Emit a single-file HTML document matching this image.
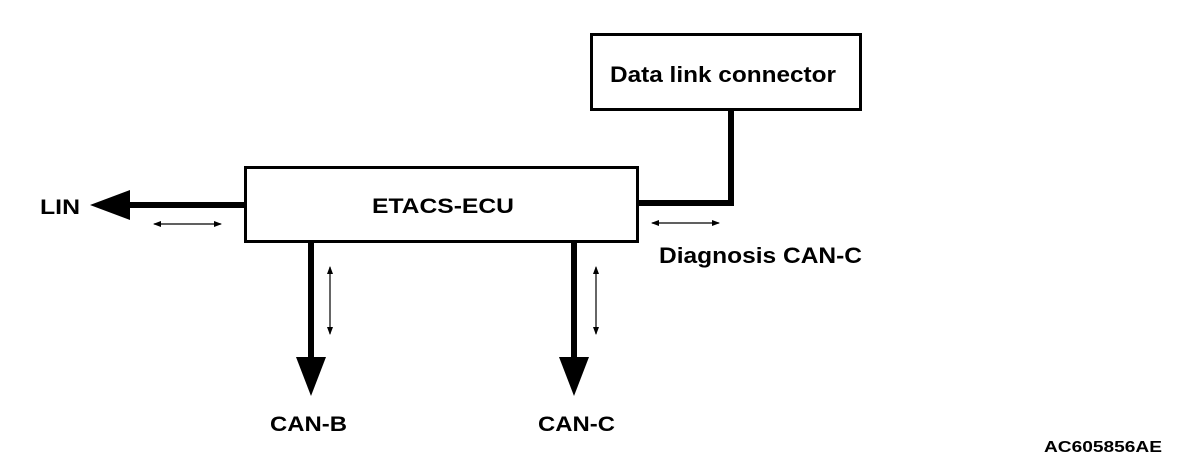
<!DOCTYPE html>
<html><head><meta charset="utf-8"><style>
html,body{margin:0;padding:0;background:#fff;}
svg{display:block;}
text{font-family:"Liberation Sans",sans-serif;font-weight:bold;fill:#000;}
</style></head><body>
<svg width="1200" height="472" viewBox="0 0 1200 472" xmlns="http://www.w3.org/2000/svg">
<defs>
<marker id="sa" markerWidth="8" markerHeight="6" refX="7" refY="3" orient="auto-start-reverse" markerUnits="userSpaceOnUse">
<path d="M0,0 L8,3 L0,6 z" fill="#000"/></marker>
</defs>
<rect x="591.5" y="34.5" width="269" height="75" fill="none" stroke="#000" stroke-width="3"/>
<text x="610" y="82" font-size="22" textLength="226" lengthAdjust="spacingAndGlyphs">Data link connector</text>
<rect x="245.5" y="167.5" width="392" height="74" fill="none" stroke="#000" stroke-width="3"/>
<text x="372" y="213" font-size="21" textLength="142" lengthAdjust="spacingAndGlyphs">ETACS-ECU</text>
<polyline points="638,203 731,203 731,110" fill="none" stroke="#000" stroke-width="6"/>
<line x1="245" y1="205" x2="128" y2="205" stroke="#000" stroke-width="6"/>
<polygon points="90,205 130,190 130,220" fill="#000"/>
<text x="40" y="214" font-size="21" textLength="40" lengthAdjust="spacingAndGlyphs">LIN</text>
<line x1="154" y1="224" x2="221" y2="224" stroke="#000" stroke-width="1.2" marker-start="url(#sa)" marker-end="url(#sa)"/>
<line x1="652" y1="223" x2="719" y2="223" stroke="#000" stroke-width="1.2" marker-start="url(#sa)" marker-end="url(#sa)"/>
<text x="659" y="263" font-size="22" textLength="203" lengthAdjust="spacingAndGlyphs">Diagnosis CAN-C</text>
<line x1="311" y1="242" x2="311" y2="360" stroke="#000" stroke-width="6"/>
<polygon points="296,357 326,357 311,396" fill="#000"/>
<line x1="330" y1="267" x2="330" y2="334" stroke="#000" stroke-width="1.2" marker-start="url(#sa)" marker-end="url(#sa)"/>
<text x="270" y="431" font-size="21" textLength="77" lengthAdjust="spacingAndGlyphs">CAN-B</text>
<line x1="574" y1="242" x2="574" y2="360" stroke="#000" stroke-width="6"/>
<polygon points="559,357 589,357 574,396" fill="#000"/>
<line x1="596" y1="267" x2="596" y2="334" stroke="#000" stroke-width="1.2" marker-start="url(#sa)" marker-end="url(#sa)"/>
<text x="538" y="431" font-size="21" textLength="77" lengthAdjust="spacingAndGlyphs">CAN-C</text>
<text x="1044" y="452" font-size="16" textLength="118" lengthAdjust="spacingAndGlyphs">AC605856AE</text>
</svg>
</body></html>
